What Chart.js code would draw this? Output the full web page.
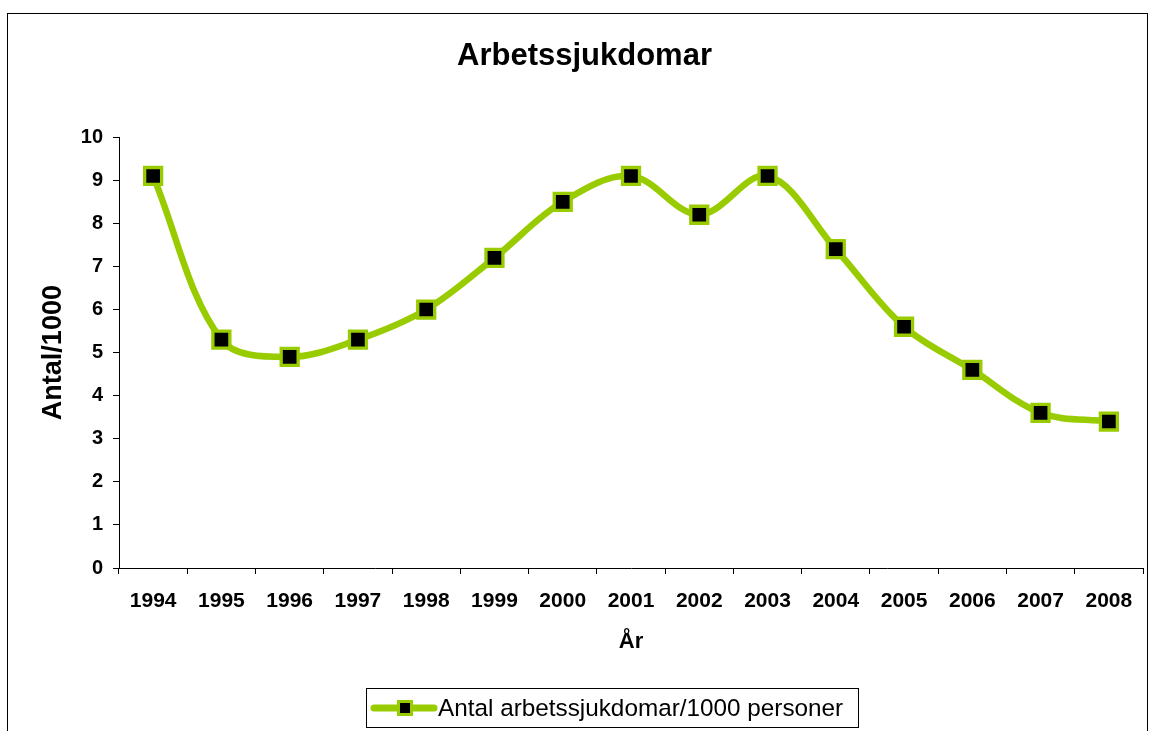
<!DOCTYPE html>
<html>
<head>
<meta charset="utf-8">
<script src="https://cdn.jsdelivr.net/npm/chart.js@4"></script>
<style>
  html, body { margin: 0; padding: 0; background: #fff; overflow: hidden; }
  #wrap { position: relative; width: 1150px; height: 731px; }
  #frame { position: absolute; left: 7px; top: 13px; width: 1141px; height: 760px; border: 1px solid #000; box-sizing: border-box; pointer-events: none; }
  canvas { position: absolute; left: 0; top: 0; }
</style>
</head>
<body>
<div id="wrap">
  <div id="frame"></div>
  <canvas id="c" width="1150" height="731"></canvas>
</div>
<script>
const years = ['1994','1995','1996','1997','1998','1999','2000','2001','2002','2003','2004','2005','2006','2007','2008'];
const values = [9.1, 5.3, 4.9, 5.3, 6.0, 7.2, 8.5, 9.1, 8.2, 9.1, 7.4, 5.6, 4.6, 3.6, 3.4];
const yTicks = [0,1,2,3,4,5,6,7,8,9,10];
const seriesLabel = 'Antal arbetssjukdomar/1000 personer';
const chartTitle = 'Arbetssjukdomar';
const xTitle = 'År';
const yTitle = 'Antal/1000';

const FONT = "'Liberation Sans', Arial, Helvetica, sans-serif";
const GREEN = '#99CC00';

const legendPlugin = {
  id: 'customLegend',
  afterDraw(chart) {
    const ctx = chart.ctx;
    const ds = chart.data.datasets[0];
    const box = { x: 366, y: 688, w: 492, h: 39 };
    const cy = box.y + box.h / 2 + 0.5;
    ctx.save();
    ctx.strokeStyle = '#000';
    ctx.lineWidth = 1;
    ctx.strokeRect(box.x + 0.5, box.y + 0.5, box.w, box.h);
    ctx.strokeStyle = ds.borderColor;
    ctx.lineWidth = 7;
    ctx.lineCap = 'round';
    ctx.beginPath();
    ctx.moveTo(box.x + 8, cy);
    ctx.lineTo(box.x + 68, cy);
    ctx.stroke();
    ctx.fillStyle = ds.pointBackgroundColor;
    ctx.strokeStyle = ds.pointBorderColor;
    ctx.lineWidth = 3;
    ctx.beginPath();
    ctx.rect(box.x + 39 - 6.5, cy - 6.5, 13, 13);
    ctx.fill();
    ctx.stroke();
    ctx.fillStyle = '#000';
    ctx.font = '24.3px ' + FONT;
    ctx.textBaseline = 'middle';
    ctx.textAlign = 'left';
    ctx.fillText(ds.label, box.x + 72, cy + 1);
    ctx.restore();
  }
};

new Chart(document.getElementById('c'), {
  type: 'line',
  data: {
    labels: years,
    datasets: [{
      label: seriesLabel,
      data: values,
      borderColor: GREEN,
      borderWidth: 6.5,
      tension: 0.35,
      fill: false,
      pointStyle: 'rect',
      pointRadius: 12,
      pointHoverRadius: 12,
      pointBackgroundColor: '#000',
      pointBorderColor: GREEN,
      pointBorderWidth: 3.3,
      clip: false
    }]
  },
  options: {
    responsive: false,
    animation: false,
    devicePixelRatio: 1,
    layout: { autoPadding: false, padding: { left: 26, right: 7, top: 0, bottom: 0 } },
    plugins: {
      legend: { display: false },
      tooltip: { enabled: false },
      title: {
        display: true,
        text: chartTitle,
        color: '#000',
        font: { family: FONT, size: 31, weight: 'bold', lineHeight: 1.2 },
        padding: { top: 38, bottom: 62 }
      }
    },
    scales: {
      x: {
        type: 'category',
        offset: true,
        grid: { display: true, drawOnChartArea: false, offset: true, tickLength: 6, color: '#000', tickColor: '#000' },
        border: { display: true, color: '#000', width: 1 },
        ticks: { color: '#000', padding: 15, maxRotation: 0, autoSkip: false, font: { family: FONT, size: 21, weight: 'bold' } },
        title: { display: true, text: xTitle, color: '#000', font: { family: FONT, size: 22, weight: 'bold', lineHeight: 1.2 }, padding: { top: 0, bottom: 76 } },
        afterFit(scale) { scale.height = 163; scale.paddingLeft = 0; scale.paddingRight = 0; }
      },
      y: {
        min: 0,
        max: 10,
        afterBuildTicks(scale) { scale.ticks = yTicks.map(v => ({ value: v })); },
        grid: { display: true, drawOnChartArea: false, tickLength: 6, color: '#000', tickColor: '#000' },
        border: { display: true, color: '#000', width: 1 },
        ticks: { color: '#000', padding: 10, font: { family: FONT, size: 20, weight: 'bold' } },
        title: { display: true, text: yTitle, color: '#000', font: { family: FONT, size: 27, weight: 'bold', lineHeight: 1.2 }, padding: { top: 11, bottom: 0 } },
        afterFit(scale) { scale.width = 93; }
      }
    }
  },
  plugins: [legendPlugin]
});
</script>
</body>
</html>
